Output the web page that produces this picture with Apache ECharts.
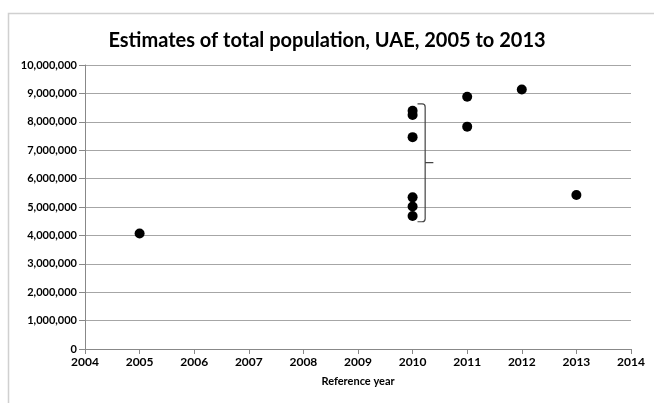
<!DOCTYPE html>
<html><head><meta charset="utf-8">
<script src="https://cdn.jsdelivr.net/npm/echarts@6/dist/echarts.min.js"></script>
<style>html,body{margin:0;padding:0;background:#fff}#c{width:654px;height:403px}</style>
</head><body><div id="c"></div>
<script>
const titleText = 'Estimates of total population, UAE, 2005 to 2013';
const xAxisName = 'Reference year';
const years = [2005, 2010, 2010, 2010, 2010, 2010, 2010, 2011, 2011, 2012, 2013];
const populations = [4070000, 8390000, 8240000, 7460000, 5340000, 5020000, 4680000, 8880000, 7830000, 9140000, 5420000];
const bracketX = [2010.09, 2010.23, 2010.38];
const bracketY = [8630000, 6560000, 4480000];

const chart = echarts.init(document.getElementById('c'));
const font = 'Lato, "Open Sans", sans-serif';
chart.setOption({
  animation: false,
  backgroundColor: '#fff',
  graphic: [{type:'polyline', shape:{points:[[8.5,403],[8.5,13.5],[654,13.5]]}, style:{stroke:'#d0d0d0', lineWidth:1.5, fill:null}}],
  title: {text: titleText, left: 'center', top: 26, textStyle:{fontFamily: font, fontSize: 20, fontWeight: 'bold', color:'#000'}},
  grid: {left: 85, right: 23, top: 65, bottom: 54},
  xAxis: {type:'value', min:2004, max:2014, interval:1, name:xAxisName, nameLocation:'middle', nameGap:27,
    nameTextStyle:{fontFamily:font, fontSize:11, fontWeight:'bold', color:'#000'},
    axisLine:{lineStyle:{color:'#888'}}, axisTick:{show:true, length:5, lineStyle:{color:'#888'}},
    splitLine:{show:false},
    axisLabel:{fontFamily:font, fontSize:12, fontWeight:'bold', color:'#000', margin:7, formatter: v => String(v)}},
  yAxis: {type:'value', min:0, max:10000000, interval:1000000,
    axisLine:{show:true, lineStyle:{color:'#888'}}, axisTick:{show:true, length:6, lineStyle:{color:'#888'}},
    splitLine:{lineStyle:{color:'#a6a6a6'}},
    axisLabel:{fontFamily:font, fontSize:11, fontWeight:'bold', color:'#000', margin:8,
      formatter: v => v.toLocaleString('en-US')}},
  series: [
    {type:'scatter', data: years.map((y,i)=>[y, populations[i]]), symbolSize:10, itemStyle:{color:'#000', opacity:1}},
    {type:'custom', silent:true, data:[[0]],
      renderItem: (params, api) => {
        const tl = api.coord([bracketX[0], bracketY[0]]);
        const tr = api.coord([bracketX[1], bracketY[0]]);
        const mid = api.coord([bracketX[1], bracketY[1]]);
        const me = api.coord([bracketX[2], bracketY[1]]);
        const br = api.coord([bracketX[1], bracketY[2]]);
        const bl = api.coord([bracketX[0], bracketY[2]]);
        const r = 3;
        const d = `M${tl[0]} ${tl[1]} L${tr[0]-r} ${tr[1]} Q${tr[0]} ${tr[1]} ${tr[0]} ${tr[1]+r} L${br[0]} ${br[1]-r} Q${br[0]} ${br[1]} ${br[0]-r} ${br[1]} L${bl[0]} ${bl[1]} M${mid[0]} ${mid[1]} L${me[0]} ${me[1]}`;
        return {type:'path', shape:{pathData:d}, style:{stroke:'#444', lineWidth:1.2, fill:null}};
      }}
  ]
});
</script></body></html>
